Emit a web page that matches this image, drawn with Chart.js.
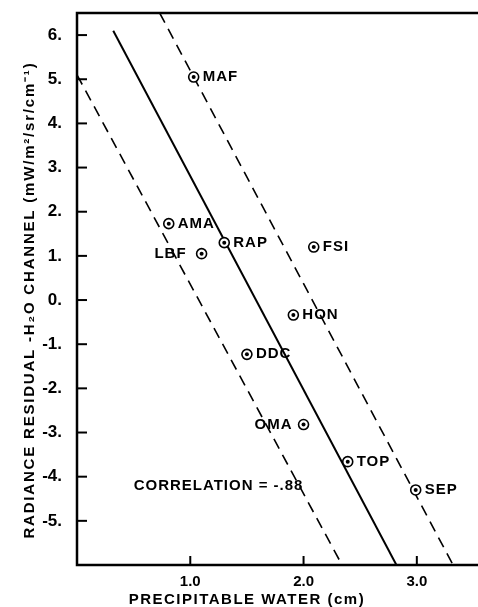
<!DOCTYPE html>
<html>
<head>
<meta charset="utf-8">
<script src="https://cdn.jsdelivr.net/npm/chart.js@4/dist/chart.umd.min.js"></script>
<style>
  body { margin: 0; background: #fff; }
  canvas { display: block; }
</style>
</head>
<body>
<canvas id="residualChart" width="478" height="607"></canvas>
<script>
// stations and their values
const stations = ['MAF', 'AMA', 'LBF', 'RAP', 'FSI', 'HON', 'DDC', 'OMA', 'TOP', 'SEP'];
const water    = [1.03, 0.81, 1.10, 1.30, 2.09, 1.91, 1.50, 2.00, 2.39, 2.99];
const residual = [5.05, 1.73, 1.05, 1.30, 1.20, -0.34, -1.23, -2.82, -3.66, -4.30];

// regression line and the two dashed bounds (end points)
const fitX = [0.32, 2.82];
const fitY = [6.10, -6.0];
const upperX = [0.73, 3.32];
const upperY = [6.5, -6.0];
const lowerX = [0.0, 2.34];
const lowerY = [5.1, -6.0];

const xTicks = [1, 2, 3];
const yTicks = [-5, -4, -3, -2, -1, 0, 1, 2, 3, 4, 5, 6];

const xTitle = 'PRECIPITABLE WATER (cm)';
const yTitle = 'RADIANCE RESIDUAL -H\u2082O CHANNEL (mW/m\u00b2/sr/cm\u207b\u00b9)';
const note = 'CORRELATION = -.88';

const pts = (xs, ys) => xs.map((x, i) => ({ x: x, y: ys[i] }));
const FONT = 'Liberation Sans, Arial, sans-serif';

// labels to the left of the marker, with their gap
const leftLabels = { LBF: 15, OMA: 11 };

const noPad = s => { s.paddingLeft = 0; s.paddingRight = 0; s.paddingTop = 0; s.paddingBottom = 0; };

const decorate = {
  id: 'decorate',
  afterDatasetsDraw(chart) {
    const ctx = chart.ctx;
    const a = chart.chartArea;
    const xs = chart.scales.x, ys = chart.scales.y;
    ctx.save();
    ctx.strokeStyle = '#000';
    ctx.lineCap = 'square';

    // frame: left, top, bottom
    ctx.lineWidth = 2.5;
    ctx.beginPath();
    ctx.moveTo(chart.width, a.top);
    ctx.lineTo(a.left, a.top);
    ctx.lineTo(a.left, a.bottom);
    ctx.lineTo(chart.width, a.bottom);
    ctx.stroke();

    // inward ticks
    ctx.lineWidth = 2;
    yTicks.forEach(v => {
      const y = ys.getPixelForValue(v);
      ctx.beginPath();
      ctx.moveTo(a.left, y);
      ctx.lineTo(a.left + 9, y);
      ctx.stroke();
    });
    xTicks.forEach(v => {
      const x = xs.getPixelForValue(v);
      ctx.beginPath();
      ctx.moveTo(x, a.bottom);
      ctx.lineTo(x, a.bottom - 8);
      ctx.stroke();
    });

    // station labels
    ctx.fillStyle = '#000';
    ctx.font = 'bold 15px ' + FONT;
    ctx.letterSpacing = '1px';
    ctx.textBaseline = 'middle';
    stations.forEach((s, i) => {
      const x = xs.getPixelForValue(water[i]);
      const y = ys.getPixelForValue(residual[i]);
      if (s in leftLabels) {
        ctx.textAlign = 'right';
        ctx.fillText(s, x - leftLabels[s], y);
      } else {
        ctx.textAlign = 'left';
        ctx.fillText(s, x + 9, y);
      }
    });

    // correlation note
    ctx.textAlign = 'left';
    ctx.fillText(note, xs.getPixelForValue(0.5), ys.getPixelForValue(-4.2));

    // axis titles
    ctx.font = 'bold 15px ' + FONT;
    ctx.letterSpacing = '1.5px';
    ctx.textAlign = 'center';
    ctx.fillText(xTitle, xs.getPixelForValue(1.5), 600);
    ctx.letterSpacing = '1.8px';
    ctx.translate(30, ys.getPixelForValue(0));
    ctx.rotate(-Math.PI / 2);
    ctx.fillText(yTitle, 0, 0);
    ctx.restore();
  }
};

new Chart(document.getElementById('residualChart'), {
  type: 'scatter',
  data: {
    datasets: [
      {
        type: 'line',
        data: pts(fitX, fitY),
        borderColor: '#000',
        borderWidth: 2,
        pointRadius: 0,
        order: 3
      },
      {
        type: 'line',
        data: pts(upperX, upperY),
        borderColor: '#000',
        borderWidth: 1.6,
        borderDash: [11, 7],
        pointRadius: 0,
        order: 3
      },
      {
        type: 'line',
        data: pts(lowerX, lowerY),
        borderColor: '#000',
        borderWidth: 1.6,
        borderDash: [11, 7],
        pointRadius: 0,
        order: 3
      },
      {
        data: pts(water, residual),
        pointRadius: 5,
        borderWidth: 1.6,
        borderColor: '#000',
        backgroundColor: '#fff',
        order: 2
      },
      {
        data: pts(water, residual),
        pointRadius: 2,
        borderWidth: 0,
        backgroundColor: '#000',
        order: 1
      }
    ]
  },
  options: {
    responsive: false,
    animation: false,
    layout: { autoPadding: false, padding: { top: 13, right: 0, left: 0, bottom: 0 } },
    plugins: { legend: { display: false }, tooltip: { enabled: false } },
    scales: {
      x: {
        type: 'linear',
        min: 0,
        max: 3.54,
        afterBuildTicks: s => { s.ticks = xTicks.map(v => ({ value: v })); },
        afterFit: s => { s.height = 42; noPad(s); },
        grid: { display: false },
        border: { display: false },
        ticks: {
          color: '#000',
          font: { family: FONT, size: 15, weight: 'bold' },
          padding: 0,
          maxRotation: 0,
          callback: v => v.toFixed(1)
        }
      },
      y: {
        type: 'linear',
        min: -6,
        max: 6.5,
        afterBuildTicks: s => { s.ticks = yTicks.map(v => ({ value: v })); },
        afterFit: s => { s.width = 77; noPad(s); },
        grid: { display: false },
        border: { display: false },
        ticks: {
          color: '#000',
          font: { family: FONT, size: 17, weight: 'bold' },
          padding: 7,
          callback: v => v + '.'
        }
      }
    }
  },
  plugins: [decorate]
});
</script>
</body>
</html>
